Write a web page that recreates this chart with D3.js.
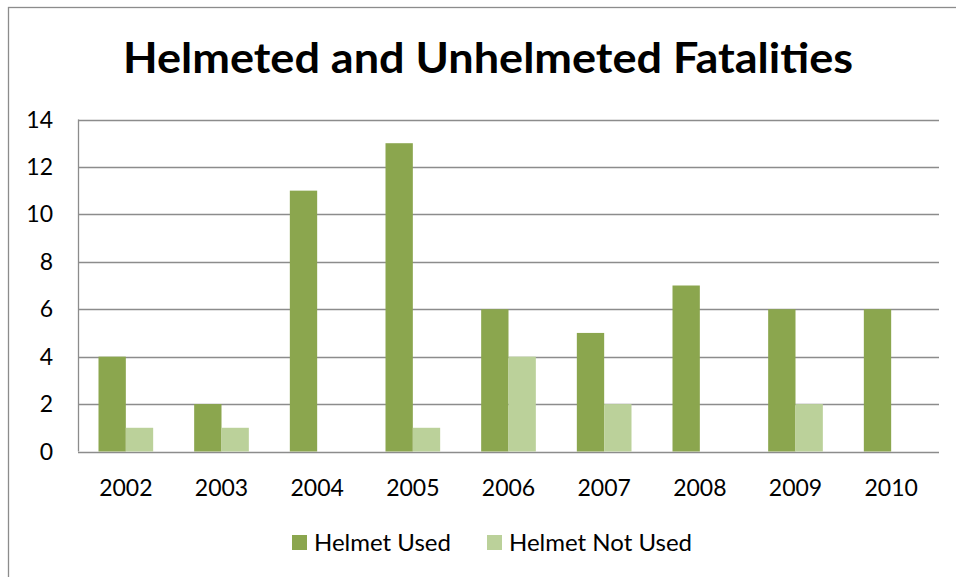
<!DOCTYPE html>
<html>
<head>
<meta charset="utf-8">
<script src="https://cdn.jsdelivr.net/npm/d3@7"></script>
<style>
  body { margin: 0; background: #fff; }
  svg { display: block; font-family: Lato, "Open Sans", sans-serif; }
</style>
</head>
<body>
<svg id="chart" width="956" height="577"></svg>
<script>
var years = ["2002", "2003", "2004", "2005", "2006", "2007", "2008", "2009", "2010"];
var helmetUsed = [4, 2, 11, 13, 6, 5, 7, 6, 6];
var helmetNotUsed = [1, 1, 0, 1, 4, 2, 0, 2, 0];
var seriesNames = ["Helmet Used", "Helmet Not Used"];
var seriesColors = ["#8ba64e", "#bbd19a"];
var yTicks = [0, 2, 4, 6, 8, 10, 12, 14];

var svg = d3.select("#chart");

// outer chart border
svg.append("rect")
    .attr("x", 8.5).attr("y", 7.5)
    .attr("width", 960).attr("height", 600)
    .attr("fill", "none")
    .attr("stroke", "#8c8c8c")
    .attr("stroke-width", 1.3);

var plotL = 78, plotR = 939, plotT = 119.5, plotB = 451.5;

// gap width 150% -> bars take 2 / 3.5 of each category
var x = d3.scaleBand()
    .domain(years)
    .range([plotL, plotR])
    .paddingInner(1.5 / 3.5).paddingOuter(0.75 / 3.5);

var x1 = d3.scaleBand()
    .domain(d3.range(seriesNames.length))
    .range([0, x.bandwidth()]);

var y = d3.scaleLinear()
    .domain([0, 14])
    .range([plotB, plotT]);

// gridlines
svg.append("g")
    .selectAll("line")
    .data(yTicks)
    .enter()
    .append("line")
        .attr("x1", plotL).attr("x2", plotR)
        .attr("y1", function(d) { return Math.round(y(d)) + 0.5; })
        .attr("y2", function(d) { return Math.round(y(d)) + 0.5; })
        .attr("stroke", "#8c8c8c")
        .attr("stroke-width", 1.3);

// y axis line
svg.append("line")
    .attr("x1", plotL + 0.5).attr("x2", plotL + 0.5)
    .attr("y1", plotT).attr("y2", plotB)
    .attr("stroke", "#8c8c8c").attr("stroke-width", 1.3);

// bars
var rows = years.map(function(yr, i) { return [helmetUsed[i], helmetNotUsed[i]]; });

svg.append("g")
    .selectAll("g")
    .data(rows)
    .enter()
    .append("g")
        .attr("transform", function(_, i) { return "translate(" + x(years[i]) + ",0)"; })
        .selectAll("rect")
        .data(function(row) { return row; })
        .enter()
        .append("rect")
            .attr("x", function(_, j) { return x1(j); })
            .attr("width", x1.bandwidth())
            .attr("y", function(d) { return y(d); })
            .attr("height", function(d) { return y(0) - y(d); })
            .attr("fill", function(_, j) { return seriesColors[j]; });

// y tick labels
svg.append("g")
    .selectAll("text")
    .data(yTicks)
    .enter()
    .append("text")
        .attr("x", 53)
        .attr("y", function(d) { return y(d); })
        .attr("dy", "0.35em")
        .attr("text-anchor", "end")
        .attr("font-size", 23)
        .attr("fill", "#000")
        .text(function(d) { return d; });

// x tick labels
svg.append("g")
    .selectAll("text")
    .data(years)
    .enter()
    .append("text")
        .attr("x", function(d) { return x(d) + x.bandwidth() / 2; })
        .attr("y", 496)
        .attr("text-anchor", "middle")
        .attr("font-size", 23)
        .attr("fill", "#000")
        .text(function(d) { return d; });

// title
svg.append("text")
    .attr("x", 488)
    .attr("y", 73)
    .attr("text-anchor", "middle")
    .attr("font-size", 42)
    .attr("font-weight", "bold")
    .attr("textLength", 730)
    .attr("lengthAdjust", "spacingAndGlyphs")
    .text("Helmeted and Unhelmeted Fatalities");

// legend
var legendX = [292, 487];
var legend = svg.append("g")
    .selectAll("g")
    .data(seriesNames)
    .enter()
    .append("g")
        .attr("transform", function(_, i) { return "translate(" + legendX[i] + ",535)"; });

legend.append("rect")
    .attr("width", 15).attr("height", 15)
    .attr("fill", function(_, i) { return seriesColors[i]; });

legend.append("text")
    .attr("x", 22)
    .attr("y", 16)
    .attr("font-size", 24)
    .attr("fill", "#000")
    .text(function(d) { return d; });
</script>
</body>
</html>
